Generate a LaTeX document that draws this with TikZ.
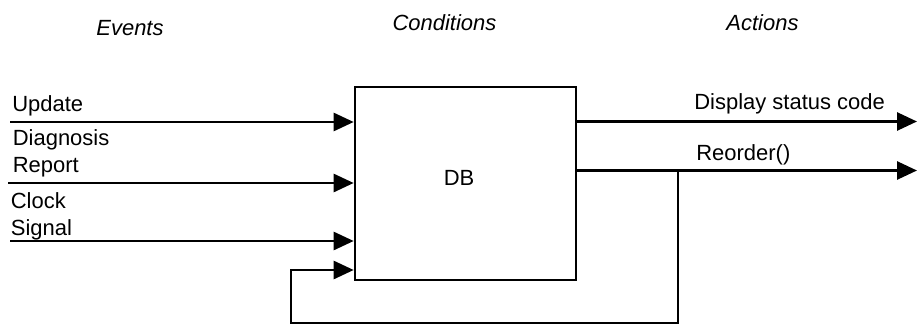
\documentclass[tikz,border=0pt]{standalone}
\usepackage{fontspec}
\setmainfont{Liberation Sans}
\usetikzlibrary{arrows.meta}

\tikzset{
  flow/.style={line width=1.5pt,-{Triangle[length=0.40cm,width=0.36cm]}},
  lbl/.style={font=\fontsize{12.5}{15.3}\selectfont,inner sep=0pt,anchor=base west,align=left},
  head/.style={font=\fontsize{12.5}{15}\selectfont\itshape,inner sep=0pt,anchor=base}
}

\begin{document}
\begin{tikzpicture}
        \useasboundingbox (0,0) rectangle (18.34,6.52) ;
        % column headings
        \node[head] (events) at (2.60,5.80) {Events} ;
        \node[head] (conds) at (8.89,5.90) {Conditions} ;
        \node[head] (acts) at (15.25,5.90) {Actions} ;
        % the database
        \node[draw,line width=1.5pt,minimum width=4.42cm,minimum height=3.86cm] (db) at (9.31,2.85) {} ;
        \node[lbl,anchor=base] (dbl) at (9.18,2.82) {DB} ;
        % events coming in
        \coordinate (updin) at (0.20,4.08) ;
        \coordinate (diagin) at (0.16,2.86) ;
        \coordinate (clkin) at (0.20,1.70) ;
        \draw[flow] (updin) -- (db.west |- updin) ;
        \draw[flow] (diagin) -- (db.west |- diagin) ;
        \draw[flow] (clkin) -- (db.west |- clkin) ;
        \node[lbl] (upd) at (0.24,4.30) {Update} ;
        \node[lbl] (diag) at (0.25,3.07) {Diagnosis\\Report} ;
        \node[lbl] (clk) at (0.21,1.82) {Clock\\Signal} ;
        % actions going out
        \coordinate (dispout) at (18.34,4.09) ;
        \coordinate (reoout) at (18.34,3.11) ;
        \draw[flow] (db.east |- dispout) -- (dispout) ;
        \draw[flow] (db.east |- reoout) -- (reoout) ;
        \node[lbl] (disp) at (13.88,4.34) {Display status code} ;
        \node[lbl] (reo) at (13.92,3.32) {Reorder()} ;
        % feedback of Reorder() into the DB
        \coordinate (fb) at (13.56,3.11) ;
        \coordinate (fbdown) at (13.56,0.06) ;
        \coordinate (fbleft) at (5.82,0.06) ;
        \coordinate (fbin) at (5.82,1.12) ;
        \draw[flow] (fb) -- (fbdown) -- (fbleft) -- (fbin) -- (db.west |- fbin) ;
      \end{tikzpicture}
\end{document}
